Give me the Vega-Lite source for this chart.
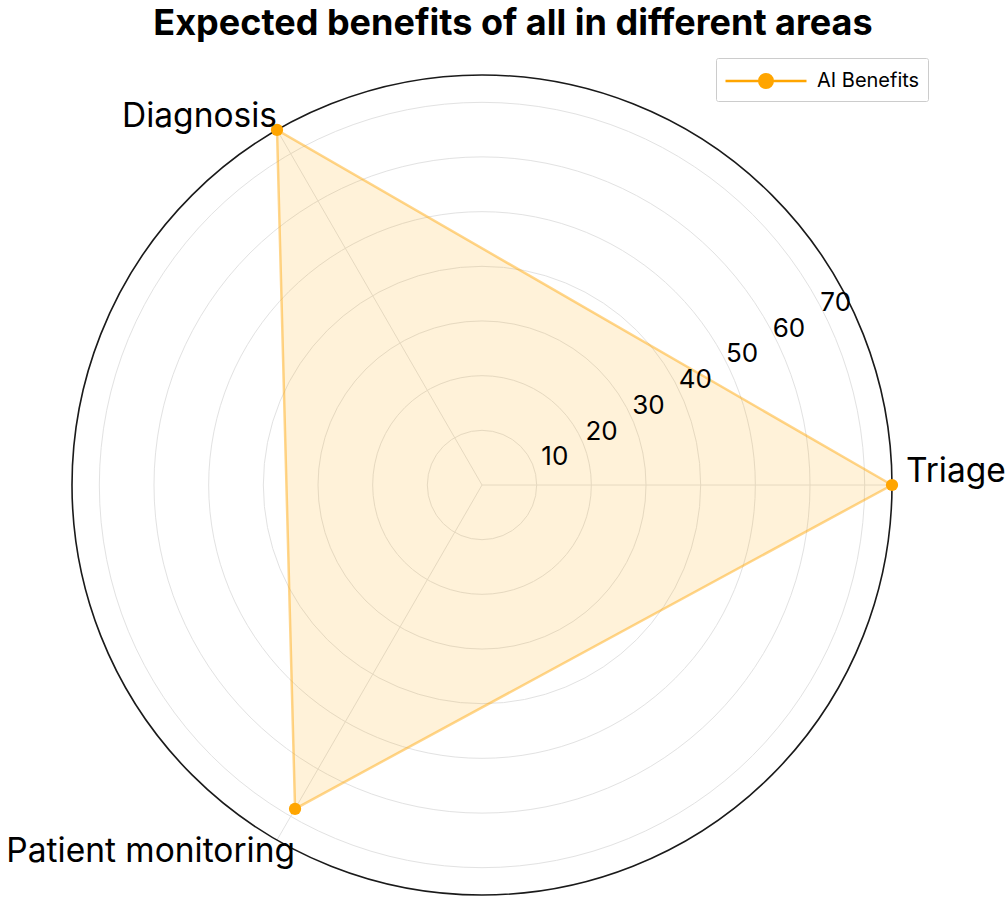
{
  "$schema": "https://vega.github.io/schema/vega-lite/v6.json",
  "width": 820,
  "height": 820,
  "autosize": "none",
  "padding": {"left": 72, "top": 75, "right": 113, "bottom": 3},
  "background": "white",
  "config": {"view": {"stroke": null}, "font": "Inter"},
  "title": {
    "text": "Expected benefits of all in different areas",
    "font": "Inter",
    "fontSize": 36,
    "fontWeight": "bold",
    "color": "#000000",
    "dx": 31,
    "dy": -11,
    "anchor": "middle",
    "frame": "group"
  },
  "datasets": {
    "benefits": [
      {"area": "Triage", "value": 75, "angle": 0, "series": "AI Benefits"},
      {"area": "Diagnosis", "value": 75, "angle": 120, "series": "AI Benefits"},
      {"area": "Patient monitoring", "value": 68.4, "angle": 240, "series": "AI Benefits"}
    ],
    "ticks": [{"v": 10}, {"v": 20}, {"v": 30}, {"v": 40}, {"v": 50}, {"v": 60}, {"v": 70}],
    "outer": [{"v": 75}]
  },
  "layer": [
    {
      "data": {"name": "ticks"},
      "mark": {"type": "point", "shape": "circle", "filled": false, "stroke": "#e2e2e2", "strokeWidth": 1, "opacity": 1},
      "encoding": {
        "x": {"datum": 0, "type": "quantitative", "scale": {"domain": [-75, 75], "nice": false, "zero": false}, "axis": null},
        "y": {"datum": 0, "type": "quantitative", "scale": {"domain": [-75, 75], "nice": false, "zero": false}, "axis": null},
        "size": {"field": "v", "type": "quantitative", "scale": {"type": "pow", "exponent": 2, "domain": [0, 75], "range": [0, 672400], "zero": true, "nice": false}, "legend": null}
      }
    },
    {
      "data": {"name": "benefits"},
      "transform": [
        {"calculate": "75 * cos(datum.angle * PI / 180)", "as": "sx"},
        {"calculate": "75 * sin(datum.angle * PI / 180)", "as": "sy"}
      ],
      "mark": {"type": "rule", "color": "#e2e2e2", "strokeWidth": 1},
      "encoding": {
        "x": {"field": "sx", "type": "quantitative", "scale": {"domain": [-75, 75], "nice": false, "zero": false}, "axis": null},
        "y": {"field": "sy", "type": "quantitative", "scale": {"domain": [-75, 75], "nice": false, "zero": false}, "axis": null},
        "x2": {"datum": 0},
        "y2": {"datum": 0}
      }
    },
    {
      "data": {"name": "outer"},
      "mark": {"type": "point", "shape": "circle", "filled": false, "stroke": "#1a1a1a", "strokeWidth": 1.6, "opacity": 1},
      "encoding": {
        "x": {"datum": 0, "type": "quantitative", "scale": {"domain": [-75, 75], "nice": false, "zero": false}, "axis": null},
        "y": {"datum": 0, "type": "quantitative", "scale": {"domain": [-75, 75], "nice": false, "zero": false}, "axis": null},
        "size": {"field": "v", "type": "quantitative", "scale": {"type": "pow", "exponent": 2, "domain": [0, 75], "range": [0, 672400], "zero": true, "nice": false}, "legend": null}
      }
    },
    {
      "data": {"name": "benefits"},
      "transform": [
        {"calculate": "datum.value * cos(datum.angle * PI / 180)", "as": "px"},
        {"calculate": "datum.value * sin(datum.angle * PI / 180)", "as": "py"}
      ],
      "mark": {"type": "line", "interpolate": "linear-closed", "stroke": "#FFA500", "strokeOpacity": 0.45, "strokeWidth": 2.5, "fill": "#FFA500", "fillOpacity": 0.15},
      "encoding": {
        "x": {"field": "px", "type": "quantitative", "scale": {"domain": [-75, 75], "nice": false, "zero": false}, "axis": null},
        "y": {"field": "py", "type": "quantitative", "scale": {"domain": [-75, 75], "nice": false, "zero": false}, "axis": null},
        "order": {"field": "angle", "type": "quantitative"}
      }
    },
    {
      "data": {"name": "benefits"},
      "transform": [
        {"calculate": "datum.value * cos(datum.angle * PI / 180)", "as": "px"},
        {"calculate": "datum.value * sin(datum.angle * PI / 180)", "as": "py"}
      ],
      "mark": {"type": "circle", "size": 150, "opacity": 1},
      "encoding": {
        "x": {"field": "px", "type": "quantitative", "scale": {"domain": [-75, 75], "nice": false, "zero": false}, "axis": null},
        "y": {"field": "py", "type": "quantitative", "scale": {"domain": [-75, 75], "nice": false, "zero": false}, "axis": null},
        "color": {
          "field": "series",
          "type": "nominal",
          "scale": {"range": ["#FFA500"]},
          "legend": {
            "orient": "none",
            "legendX": 644,
            "legendY": -17,
            "title": null,
            "symbolType": "M-3,0H3M0.5,0A0.5,0.5 0 1,1 -0.5,0A0.5,0.5 0 1,1 0.5,0",
            "symbolSize": 729,
            "symbolFillColor": "#FFA500",
            "symbolStrokeColor": "#FFA500",
            "symbolStrokeWidth": 2.5,
            "symbolOffset": 27,
            "labelOffset": 36,
            "labelFont": "Inter",
            "labelFontSize": 20,
            "labelColor": "#000000",
            "strokeColor": "#cccccc",
            "fillColor": "white",
            "padding": 8,
            "cornerRadius": 2
          }
        }
      }
    },
    {
      "data": {"name": "ticks"},
      "transform": [
        {"calculate": "datum.v * 0.8564", "as": "lx"},
        {"calculate": "datum.v * 0.471", "as": "ly"}
      ],
      "mark": {"type": "text", "fontSize": 26, "font": "Inter", "color": "#000000", "align": "center", "baseline": "middle", "dx": 26, "dy": -2},
      "encoding": {
        "x": {"field": "lx", "type": "quantitative", "scale": {"domain": [-75, 75], "nice": false, "zero": false}, "axis": null},
        "y": {"field": "ly", "type": "quantitative", "scale": {"domain": [-75, 75], "nice": false, "zero": false}, "axis": null},
        "text": {"field": "v", "type": "quantitative"}
      }
    },
    {
      "data": {"name": "benefits"},
      "transform": [
        {"filter": "datum.area === 'Triage'"},
        {"calculate": "75 * cos(datum.angle * PI / 180)", "as": "sx"},
        {"calculate": "75 * sin(datum.angle * PI / 180)", "as": "sy"}
      ],
      "mark": {"type": "text", "fontSize": 33.5, "font": "Inter", "color": "#000000", "align": "left", "baseline": "alphabetic", "dx": 14, "dy": -3},
      "encoding": {
        "x": {"field": "sx", "type": "quantitative", "scale": {"domain": [-75, 75], "nice": false, "zero": false}, "axis": null},
        "y": {"field": "sy", "type": "quantitative", "scale": {"domain": [-75, 75], "nice": false, "zero": false}, "axis": null},
        "text": {"field": "area", "type": "nominal"}
      }
    },
    {
      "data": {"name": "benefits"},
      "transform": [
        {"filter": "datum.area === 'Diagnosis'"},
        {"calculate": "75 * cos(datum.angle * PI / 180)", "as": "sx"},
        {"calculate": "75 * sin(datum.angle * PI / 180)", "as": "sy"}
      ],
      "mark": {"type": "text", "fontSize": 33.5, "font": "Inter", "color": "#000000", "align": "right", "baseline": "alphabetic", "dx": 0, "dy": -3},
      "encoding": {
        "x": {"field": "sx", "type": "quantitative", "scale": {"domain": [-75, 75], "nice": false, "zero": false}, "axis": null},
        "y": {"field": "sy", "type": "quantitative", "scale": {"domain": [-75, 75], "nice": false, "zero": false}, "axis": null},
        "text": {"field": "area", "type": "nominal"}
      }
    },
    {
      "data": {"name": "benefits"},
      "transform": [
        {"filter": "datum.area === 'Patient monitoring'"},
        {"calculate": "75 * cos(datum.angle * PI / 180)", "as": "sx"},
        {"calculate": "75 * sin(datum.angle * PI / 180)", "as": "sy"}
      ],
      "mark": {"type": "text", "fontSize": 33.5, "font": "Inter", "color": "#000000", "align": "right", "baseline": "alphabetic", "dx": 18, "dy": 22},
      "encoding": {
        "x": {"field": "sx", "type": "quantitative", "scale": {"domain": [-75, 75], "nice": false, "zero": false}, "axis": null},
        "y": {"field": "sy", "type": "quantitative", "scale": {"domain": [-75, 75], "nice": false, "zero": false}, "axis": null},
        "text": {"field": "area", "type": "nominal"}
      }
    }
  ]
}
